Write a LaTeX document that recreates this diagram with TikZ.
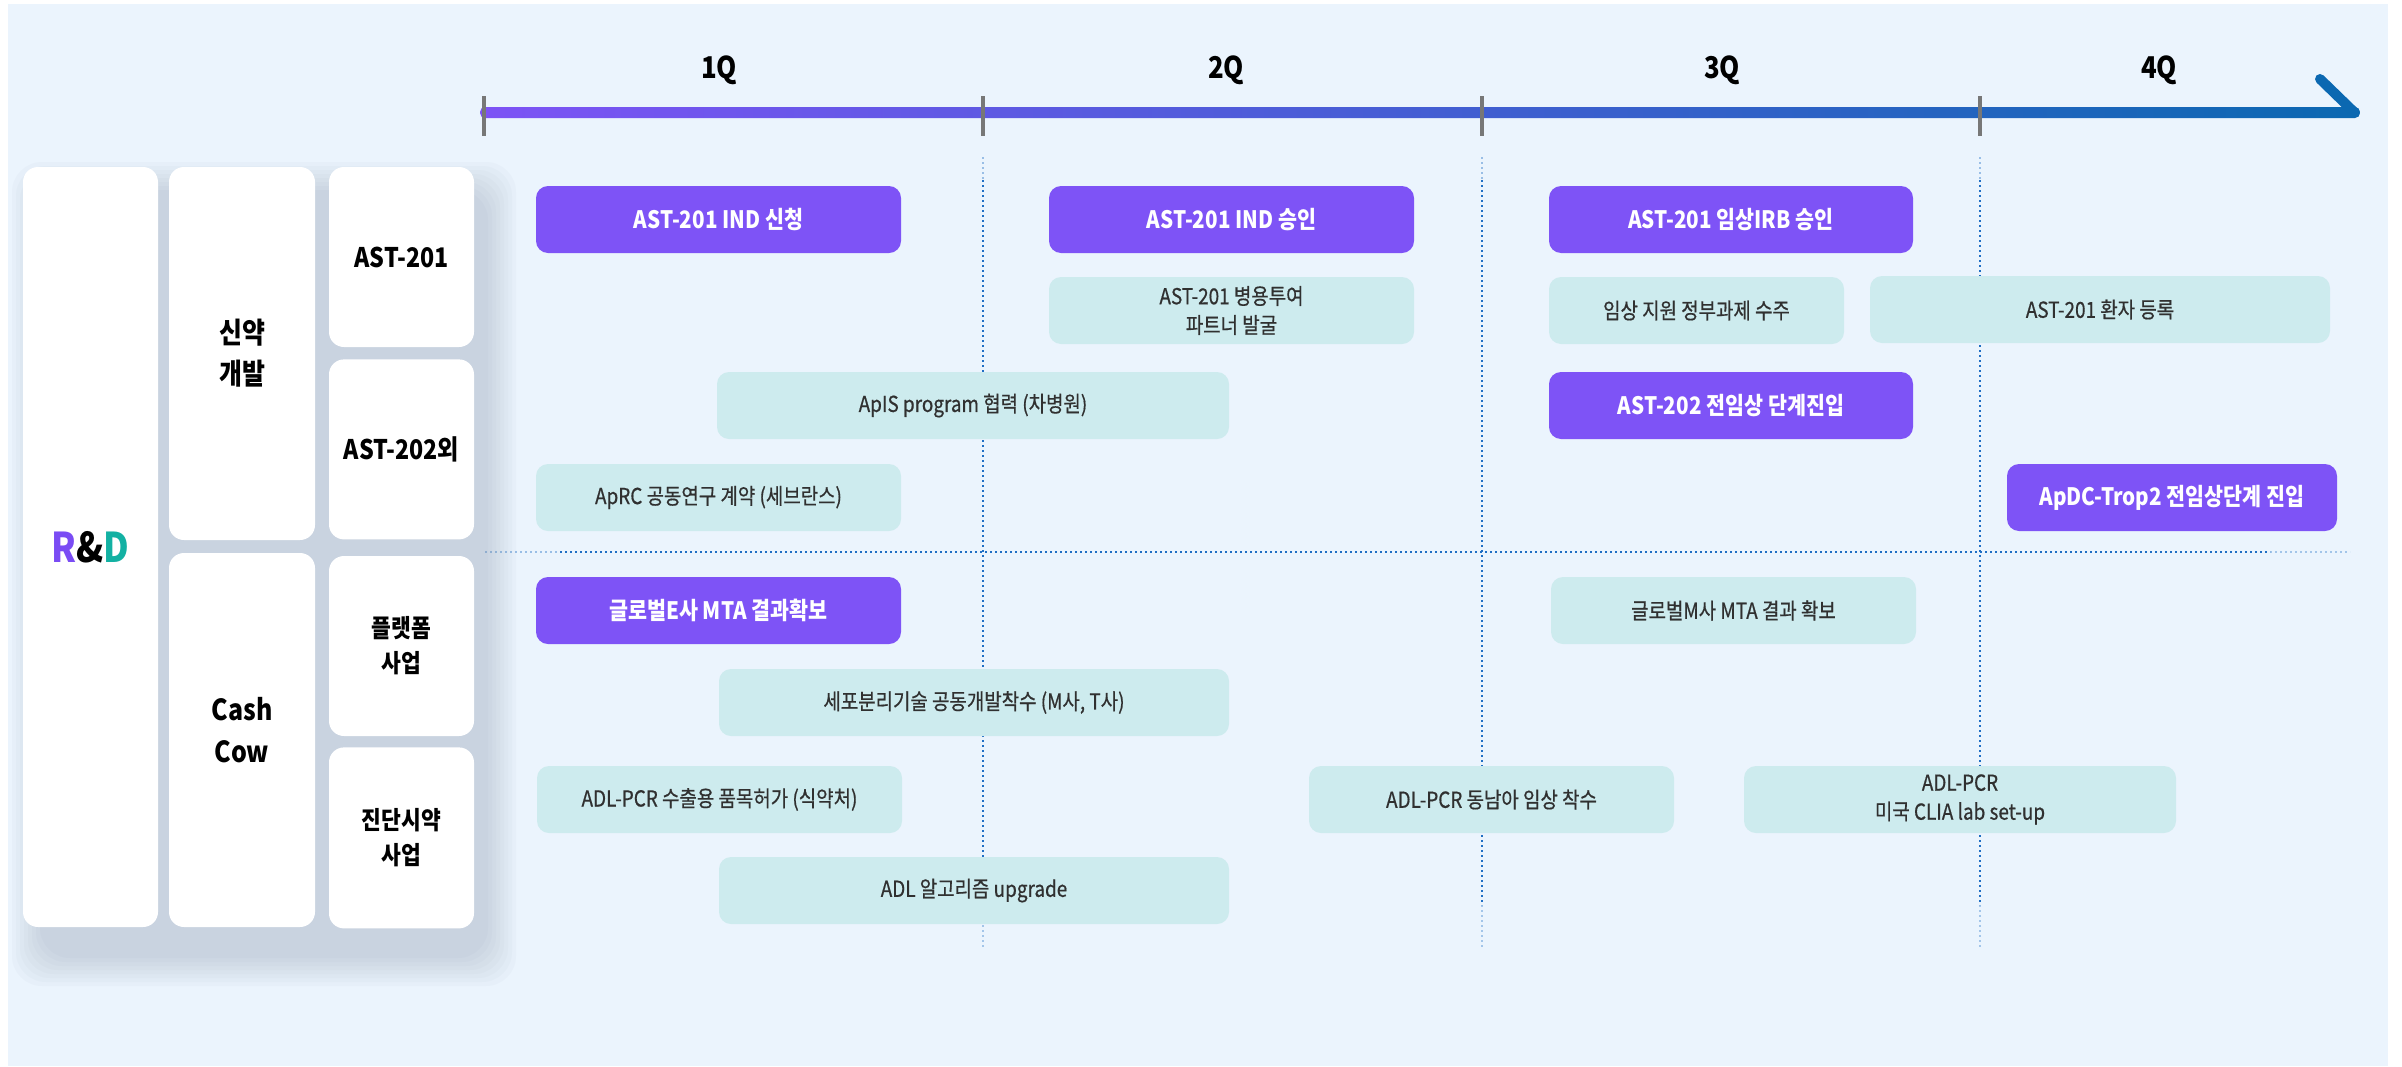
\documentclass[tikz,border=0pt]{standalone}
\usepackage{xcolor}
\usepackage{fontspec}
\setmainfont{Noto Sans CJK KR}[FakeStretch=0.86]
\newfontfamily\taskfont{Noto Sans CJK KR}[FakeStretch=0.86, FakeBold=0.6]
\usepackage{tikz}
\usetikzlibrary{positioning}

\definecolor{panelblue}{HTML}{EBF4FD}
\definecolor{milestonepurple}{HTML}{7E53F6}
\definecolor{taskteal}{HTML}{CDEBEE}
\definecolor{tasktext}{HTML}{303030}
\definecolor{tickgray}{HTML}{777777}
\definecolor{guideblue}{HTML}{1F6EC4}
\definecolor{linepurple}{HTML}{7D53F5}
\definecolor{linemid}{HTML}{4F61D2}
\definecolor{lineblue}{HTML}{0B68B1}
\definecolor{rdpurple}{HTML}{7A4CF4}
\definecolor{rdteal}{HTML}{13B1A3}
\definecolor{shadowgray}{HTML}{7C8AA0}

\begin{document}
\begin{tikzpicture}[x=1pt, y=-1pt,
  colbox/.style={rectangle, rounded corners=15, fill=white, text centered, align=center, inner sep=0pt},
  milestone/.style={rectangle, rounded corners=12, minimum height=67, fill=milestonepurple, text=white, text centered, align=center, font=\bfseries\fontsize{24}{28}\selectfont},
  task/.style={rectangle, rounded corners=12, minimum height=67, fill=taskteal, text=tasktext, text centered, align=center, font=\taskfont\fontsize{22}{29}\selectfont},
  quarter/.style={font=\bfseries\fontsize{30}{34}\selectfont},
  guide/.style={guideblue, line width=2pt, dash pattern=on 2pt off 3pt}]

\fill[white] (0,0) rectangle (2402,1066);
\useasboundingbox (0,0) rectangle (2402,1066);
\fill[panelblue] (8,4) rectangle (2388,1066);

% timeline
\shade[left color=linepurple, middle color=linemid, right color=lineblue, rounded corners=5] (480,107) rectangle (2360,118);
\draw[lineblue, line width=10pt, line cap=round] (2320,79) -- (2354,112);
\foreach \x in {484,983,1482,1980}
  \draw[tickgray, line width=4pt] (\x,96) -- (\x,136);

\node (q1) [quarter] at (719,70) {1Q};
\node (q2) [quarter] at (1226,70) {2Q};
\node (q3) [quarter] at (1722,70) {3Q};
\node (q4) [quarter] at (2159,70) {4Q};

% dotted guides
\foreach \x in {983,1482,1980} {
  \draw[guide, opacity=0.4] (\x,157) -- (\x,180);
  \draw[guide] (\x,180) -- (\x,905);
  \draw[guide, opacity=0.35] (\x,905) -- (\x,948);
}
\draw[guide, opacity=0.4] (485,552) -- (560,552);
\draw[guide] (560,552) -- (2270,552);
\draw[guide, opacity=0.35] (2270,552) -- (2350,552);

% shadow of the left block
\foreach \g in {0,...,7}
  \fill[shadowgray, opacity=0.04, rounded corners=30] ({40-4*\g},{190-4*\g}) rectangle ({488+4*\g},{958+4*\g});

% left columns
\node (rnd) [colbox, minimum width=135, minimum height=760, font=\bfseries\fontsize{41}{44}\selectfont] at (90.5,547) {{\color{rdpurple}R}\&{\color{rdteal}D}};
\node (newdrug) [colbox, minimum width=146, minimum height=373, font=\bfseries\fontsize{29}{41}\selectfont] at (242,353.5) {신약\\개발};
\node (cashcow) [colbox, minimum width=146, minimum height=374, text depth=20pt, font=\bfseries\fontsize{29}{42}\selectfont] at (242,740) {Cash\\Cow};
\node (ast201) [colbox, minimum width=145, minimum height=180, font=\bfseries\fontsize{27}{35}\selectfont] at (401.5,257) {AST-201};
\node (ast202) [colbox, minimum width=145, minimum height=180, font=\bfseries\fontsize{27}{35}\selectfont, below=12pt of ast201] {AST-202외};
\node (platform) [colbox, minimum width=145, minimum height=180, font=\bfseries\fontsize{25}{35}\selectfont] at (401.5,646) {플랫폼\\사업};
\node (diag) [colbox, minimum width=145, minimum height=181, font=\bfseries\fontsize{25}{35}\selectfont, below=11pt of platform] {진단시약\\사업};

% AST-201 row
\node (indfile) [milestone, minimum width=365] at (718.5,219.5) {AST-201 IND 신청};
\node (indok) [milestone, minimum width=365] at (1231.5,219.5) {AST-201 IND 승인};
\node (irbok) [milestone, minimum width=364] at (1731,219.5) {AST-201 임상IRB 승인};
\node (partner) [task, minimum width=365] at (1231.5,310.5) {AST-201 병용투여\\파트너 발굴};
\node (govgrant) [task, minimum width=295] at (1696.5,310.5) {임상 지원 정부과제 수주};
\node (enroll) [task, minimum width=460] at (2100,309.5) {AST-201 환자 등록};

% AST-202 row
\node (apis) [task, minimum width=512] at (973,405.5) {ApIS program 협력 (차병원)};
\node (ast202pre) [milestone, minimum width=364] at (1731,405.5) {AST-202 전임상 단계진입};
\node (aprc) [task, minimum width=365] at (718.5,497.5) {ApRC 공동연구 계약 (세브란스)};
\node (apdc) [milestone, minimum width=330] at (2172,497.5) {ApDC-Trop2 전임상단계 진입};

% platform row
\node (mtae) [milestone, minimum width=365] at (718.5,610.5) {글로벌E사 MTA 결과확보};
\node (mtam) [task, minimum width=365] at (1733.5,610.5) {글로벌M사 MTA 결과 확보};
\node (cellsep) [task, minimum width=510] at (974,702.5) {세포분리기술 공동개발착수 (M사, T사)};

% diagnostics row
\node (export) [task, minimum width=365] at (719.5,799.5) {ADL-PCR 수출용 품목허가 (식약처)};
\node (seatrial) [task, minimum width=365] at (1491.5,799.5) {ADL-PCR 동남아 임상 착수};
\node (clia) [task, minimum width=432] at (1960,799.5) {ADL-PCR\\미국 CLIA lab set-up};
\node (algo) [task, minimum width=510] at (974,890.5) {ADL 알고리즘 upgrade};

\end{tikzpicture}
\end{document}
